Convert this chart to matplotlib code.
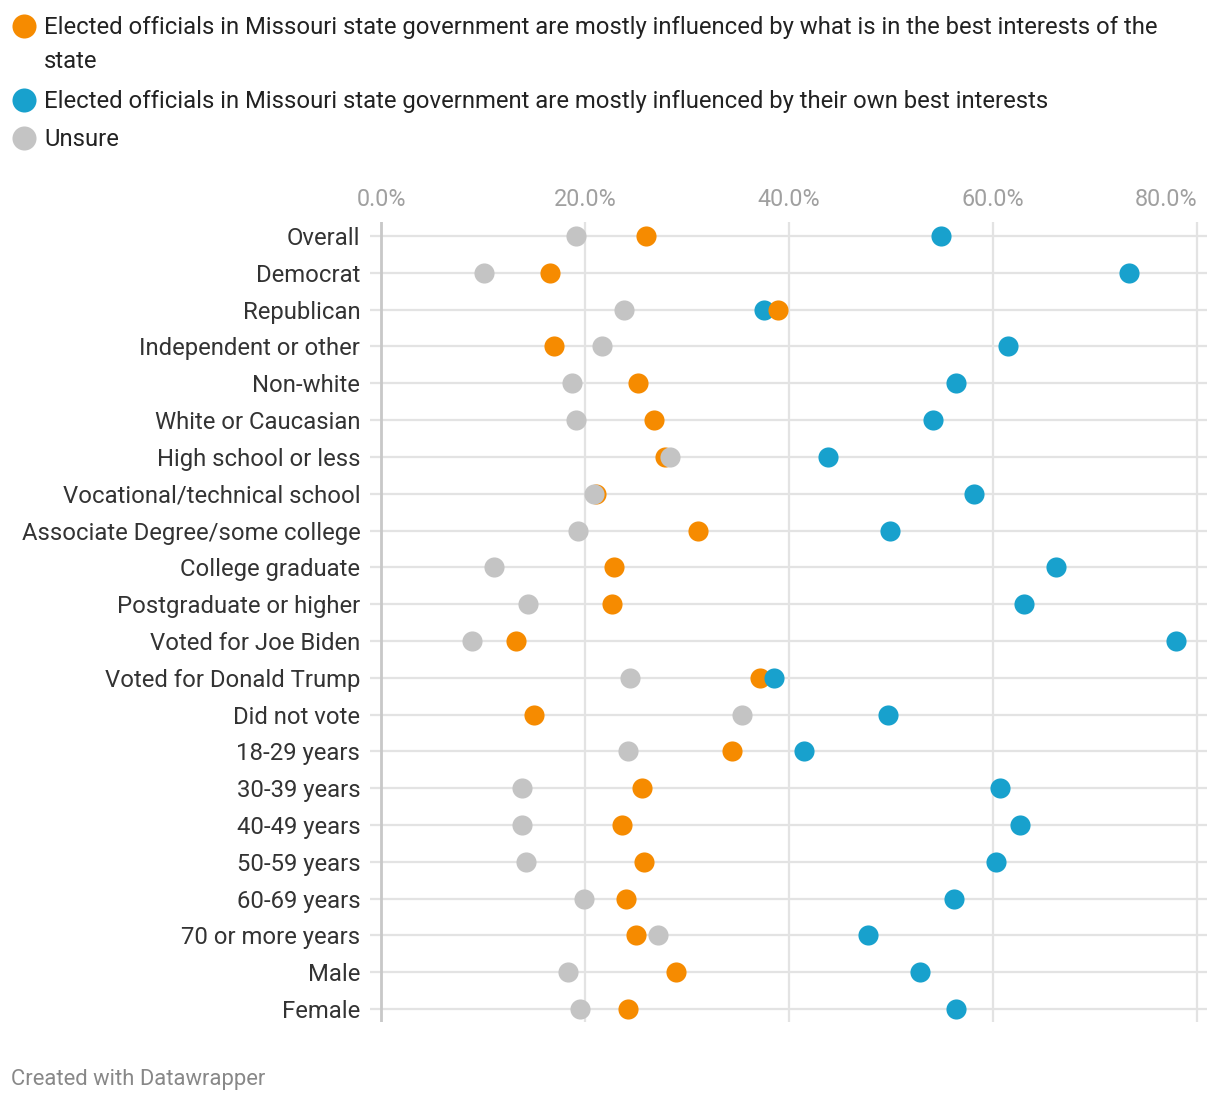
import matplotlib
matplotlib.use("Agg")
import matplotlib.pyplot as plt

plt.rcParams['font.family'] = ['Roboto', 'DejaVu Sans']

categories = [
    "Overall", "Democrat", "Republican", "Independent or other", "Non-white",
    "White or Caucasian", "High school or less", "Vocational/technical school",
    "Associate Degree/some college", "College graduate", "Postgraduate or higher",
    "Voted for Joe Biden", "Voted for Donald Trump", "Did not vote",
    "18-29 years", "30-39 years", "40-49 years", "50-59 years", "60-69 years",
    "70 or more years", "Male", "Female",
]
best_state = [26.0, 16.6, 38.9, 17.0, 25.2, 26.8, 27.8, 21.1, 31.1, 22.8, 22.6,
              13.2, 37.2, 15.0, 34.4, 25.6, 23.6, 25.8, 24.0, 25.0, 28.9, 24.2]
own_interest = [54.9, 73.3, 37.5, 61.5, 56.4, 54.1, 43.8, 58.1, 49.9, 66.2, 63.0,
                77.9, 38.5, 49.7, 41.5, 60.7, 62.6, 60.3, 56.2, 47.7, 52.8, 56.4]
unsure = [19.1, 10.1, 23.8, 21.7, 18.7, 19.1, 28.3, 20.9, 19.3, 11.1, 14.4,
          8.9, 24.4, 35.4, 24.2, 13.8, 13.8, 14.2, 19.9, 27.2, 18.3, 19.5]

series_labels = [
    "Elected officials in Missouri state government are mostly influenced by what is in the best interests of the\nstate",
    "Elected officials in Missouri state government are mostly influenced by their own best interests",
    "Unsure",
]
colors = ["#f68b00", "#18a1cd", "#c4c4c4"]
ticks = [0, 20, 40, 60, 80]
tick_labels = ["0.0%", "20.0%", "40.0%", "60.0%", "80.0%"]

W, H = 1220, 1100
fig = plt.figure(figsize=(W / 100, H / 100), dpi=100)

ax = fig.add_axes([370 / W, 1 - 1022 / H, (1207 - 370) / W, 800 / H])
n = len(categories)
ax.set_xlim(-1.08, 80.98)
ax.set_ylim(n - 1 + 0.35, -0.38)

for i in range(n):
    ax.axhline(i, color="#e3e3e3", lw=1.6, zorder=1)
for t in ticks[1:]:
    ax.axvline(t, color="#e3e3e3", lw=1.6, zorder=1)
ax.axvline(0, color="#c8c8c8", lw=2.0, zorder=1.5)

for i in range(n):
    pts = sorted([(best_state[i], 0), (own_interest[i], 1)]) + [(unsure[i], 2)]
    for j, (v, k) in enumerate(pts):
        ax.scatter([v], [i], s=210, color=colors[k], linewidths=0, zorder=3 + j)

ax.set_yticks(range(n))
ax.set_yticklabels(categories, fontsize=17.2, color="#333333")
ax.xaxis.tick_top()
ax.set_xticks(ticks)
ax.set_xticklabels(tick_labels, fontsize=16.8, color="#a0a0a0")
ax.get_xticklabels()[-1].set_horizontalalignment("right")
ax.tick_params(axis="y", length=0, pad=7)
ax.tick_params(axis="x", length=0, pad=8)
for s in ax.spines.values():
    s.set_visible(False)

# legend overlay
lax = fig.add_axes([0, 0, 1, 1])
lax.set_xlim(0, W)
lax.set_ylim(H, 0)
lax.axis("off")
leg_y = [26, 100, 138]
for k, (lab, yy) in enumerate(zip(series_labels, leg_y)):
    lax.scatter([24], [yy], s=300, color=colors[k], linewidths=0)
    lax.text(44, yy - 10, lab, fontsize=17.2, color="#222222", va="top", ha="left",
             linespacing=1.62)

lax.text(11, 1079, "Created with Datawrapper", fontsize=15.8, color="#888888",
         va="center", ha="left")

fig.savefig("out.png", dpi=100)
